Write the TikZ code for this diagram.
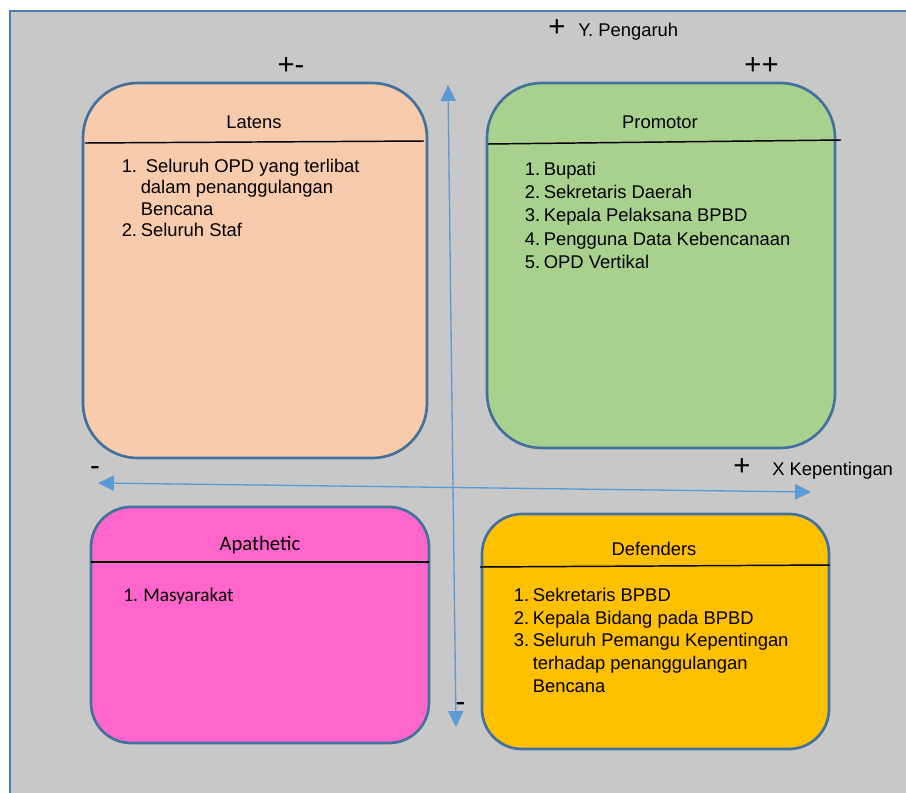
\documentclass[tikz,border=0pt]{standalone}
\usepackage{fontspec}
\setmainfont{Liberation Sans}
\newfontfamily\calibri{Carlito}
\usepackage{tikz}
\usetikzlibrary{arrows.meta,positioning}
\definecolor{cFrame}{HTML}{4A7DB5}
\definecolor{cPanel}{HTML}{C8C8C8}
\definecolor{cEdge}{HTML}{41719C}
\definecolor{cAxis}{HTML}{5B9BD5}
\definecolor{cPeach}{HTML}{F8CBAD}
\definecolor{cGreen}{HTML}{A9D18E}
\definecolor{cPink}{HTML}{FF66CC}
\definecolor{cGold}{HTML}{FFC000}
\tikzset{
  quad/.style={draw=cEdge,fill=#1,line width=2pt,rounded corners=41pt,anchor=north west,outer sep=0pt,inner sep=0pt},
  quad/.default=cPeach,
  qtitle/.style={anchor=base,inner sep=0pt,font=\fontsize{13.8}{16}\selectfont},
  qlist/.style={anchor=base west,inner sep=0pt,align=left,font=\fontsize{13.8}{#1}\selectfont},
  qlist/.default=17pt,
  hline/.style={line width=1.1pt,black},
  axis/.style={{Triangle[length=12pt,width=11.5pt]}-{Triangle[length=12pt,width=11.5pt]},line width=1pt,color=cAxis},
  sign/.style={anchor=base,inner sep=0pt,font=\fontsize{22}{26}\selectfont},
  axlbl/.style={anchor=base west,inner sep=0pt,font=\fontsize{13.8}{16}\selectfont},
}
\newcommand{\nr}[1]{\makebox[14.25pt][l]{#1}}

\begin{document}
\begin{tikzpicture}[x=0.75pt,y=-0.75pt]
  \fill[white] (0,0) rectangle (906,792);
  \useasboundingbox (0,0) rectangle (906,792);
  % panel
  \draw[cFrame,line width=2.1pt,fill=cPanel] (10,11) rectangle (915,800);
  % quadrants
  \node[quad=cPeach,minimum width=258pt,minimum height=281.25pt] (latens) at (83,83) {};
  \node[quad=cGreen,minimum width=261pt,minimum height=273.75pt] (promotor) at (487,83) {};
  \node[quad=cPink,rounded corners=30pt,minimum width=253.5pt,minimum height=177pt] (apathetic) at (91,507) {};
  \node[quad=cGold,rounded corners=30pt,minimum width=260.25pt,minimum height=176.25pt] (defenders) at (482,514) {};
  % header rules
  \draw[hline] (85,143) -- (424,141);
  \draw[hline] (488,144) -- (841,140);
  \draw[hline] (91,562) -- (429,562);
  \draw[hline] (480,567) -- (830,565);
  % titles
  \node[qtitle] (tLatens) at (254,128) {Latens};
  \node[qtitle] (tPromotor) at (660,128) {Promotor};
  \node[qtitle,font=\calibri\fontsize{15.5}{18}\selectfont] (tApathetic) at (260,550) {Apathetic};
  \node[qtitle] (tDefenders) at (654,555) {Defenders};
  % lists
  \node[qlist=16pt] (lLatens) at (121.5,172.5) {\begin{tabular}[t]{@{}l@{}l@{}}
    \nr{1.} & \ Seluruh OPD yang terlibat\\
            & dalam penanggulangan\\
            & Bencana\\
    \nr{2.} & Seluruh Staf
  \end{tabular}};
  \node[qlist=17.5pt] (lPromotor) at (524.5,175) {\begin{tabular}[t]{@{}l@{}l@{}}
    \nr{1.} & Bupati\\
    \nr{2.} & Sekretaris Daerah\\
    \nr{3.} & Kepala Pelaksana BPBD\\
    \nr{4.} & Pengguna Data Kebencanaan\\
    \nr{5.} & OPD Vertikal
  \end{tabular}};
  \node[qlist,font=\calibri\fontsize{14.5}{17}\selectfont] (lApathetic) at (123,601.5) {\begin{tabular}[t]{@{}l@{}l@{}}
    \makebox[15pt][l]{1.} & Masyarakat
  \end{tabular}};
  \node[qlist=17pt] (lDefenders) at (513.5,601.5) {\begin{tabular}[t]{@{}l@{}l@{}}
    \nr{1.} & Sekretaris BPBD\\
    \nr{2.} & Kepala Bidang pada BPBD\\
    \nr{3.} & Seluruh Pemangu Kepentingan\\
            & terhadap penanggulangan\\
            & Bencana
  \end{tabular}};
  % axes
  \coordinate (yTop) at (448,85);
  \coordinate (yBot) at (456,727);
  \coordinate (xLeft) at (98,483);
  \coordinate (xRight) at (811,492);
  \draw[axis] (yBot) -- (yTop);
  \draw[axis] (xLeft) -- (xRight);
  % axis signs and labels
  \node[sign] (sY) at (557,37) {+};
  \node[axlbl] (lblY) at (578,37) {Y. Pengaruh};
  \node[sign] (sPM) at (291,74.5) {+-};
  \node[sign] (sPP) at (761.5,74.5) {++};
  \node[sign] (sXm) at (95,475) {-};
  \node[sign] (sXp) at (742,475.5) {+};
  \node[axlbl] (lblX) at (772,475) {X Kepentingan};
  \node[sign] (sYm) at (460.5,711) {-};
\end{tikzpicture}
\end{document}
